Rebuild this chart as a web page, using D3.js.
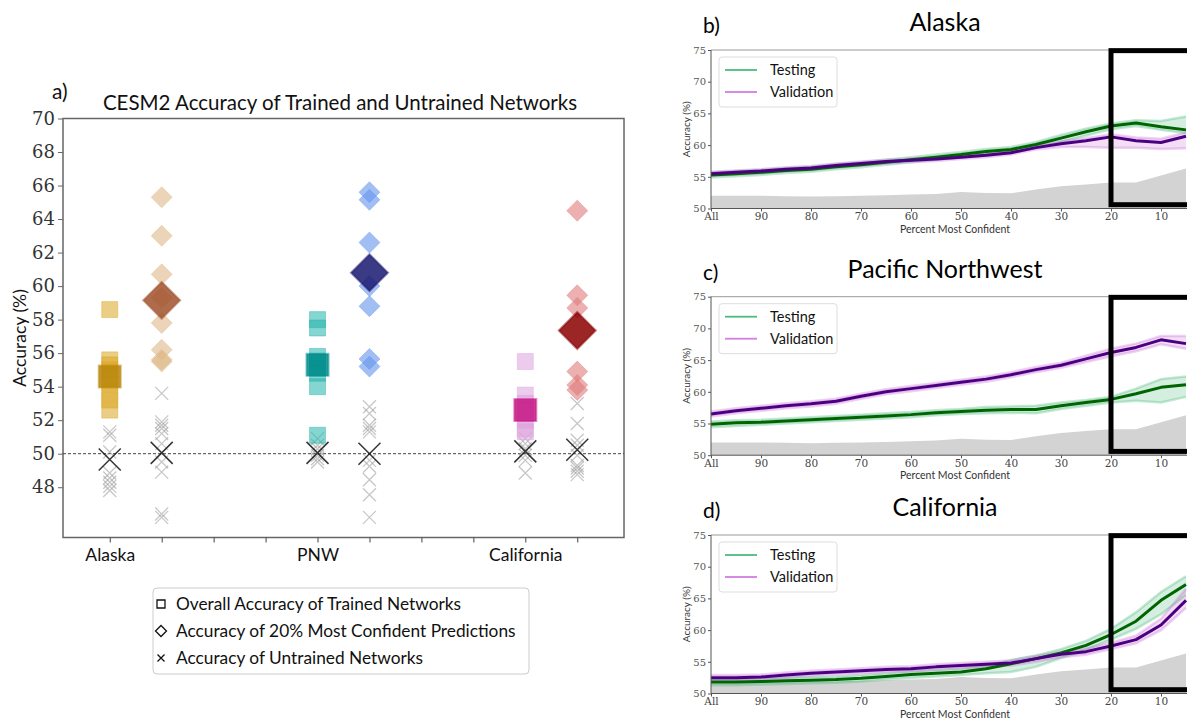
<!DOCTYPE html>
<html><head><meta charset="utf-8">
<script src="https://cdn.jsdelivr.net/npm/d3@7"></script>
<style>body{margin:0;background:#fff}svg{display:block}</style>
</head><body>
<svg id="c" width="1187" height="719"></svg>
<script>
// ---------- Panel a data ----------
const regionNames = ["Alaska", "PNW", "California"];
const regionTickPos = [1, 5, 9];
const xTicksA = [1,2,3,4,5,6,7,8,9,10];
const yTicksA = [48,50,52,54,56,58,60,62,64,66,68,70];

const alaskaTrained = [58.6, 55.6, 55.3, 55.0, 54.6, 54.2, 53.6, 53.2, 52.6];
const alaskaTrainedMean = 54.6;
const alaskaConfident = [65.3, 63.0, 60.7, 59.3, 57.8, 56.2, 55.6, 55.5];
const alaskaConfidentMean = 59.15;
const alaskaUntrainedA = [51.3, 51.1, 50.1, 48.85, 48.55, 48.3, 48.05, 47.8];
const alaskaUntrainedAMean = 49.65;
const alaskaUntrainedB = [53.6, 51.9, 51.7, 51.5, 51.2, 50.6, 49.5, 48.9, 46.4, 46.2];
const alaskaUntrainedBMean = 50.05;

const pnwTrained = [58.0, 57.5, 55.8, 55.5, 55.1, 54.8, 54.0, 51.1];
const pnwTrainedMean = 55.3;
const pnwConfident = [65.6, 65.15, 62.6, 60.0, 58.8, 55.65, 55.2];
const pnwConfidentMean = 60.8;
const pnwUntrainedA = [50.9, 50.5, 50.3, 49.9, 49.7, 49.5];
const pnwUntrainedAMean = 50.05;
const pnwUntrainedB = [52.8, 52.4, 51.7, 51.5, 51.3, 49.6, 49.25, 48.45, 47.55, 46.2];
const pnwUntrainedBMean = 50.0;

const caTrained = [55.5, 53.5, 53.0, 52.6, 52.0, 51.5, 51.3];
const caTrainedMean = 52.6;
const caConfident = [64.5, 59.45, 58.7, 54.9, 54.1, 53.8];
const caConfidentMean = 57.35;
const caUntrainedA = [50.9, 50.6, 50.3, 49.9, 49.6, 48.85];
const caUntrainedAMean = 50.14;
const caUntrainedB = [53.0, 51.8, 50.8, 50.5, 49.9, 49.3, 49.15, 48.95, 48.75];
const caUntrainedBMean = 50.24;

const lightSquareColors = ["#daa520", "#20b2aa", "#dda0dd"];
const meanSquareColors = ["#b8860b", "#008b8b", "#c71585"];
const lightDiamondColors = ["#deb887", "#6495ed", "#e07b7b"];
const meanDiamondColors = ["#a0522d", "#191970", "#8b0000"];

const legendLabelsA = ["Overall Accuracy of Trained Networks",
  "Accuracy of 20% Most Confident Predictions",
  "Accuracy of Untrained Networks"];

// ---------- Panels b-d data ----------
const pctX = [100,95,90,85,80,75,70,65,60,55,50,45,40,35,30,25,20,15,10,5];
const xTicksR = [100,90,80,70,60,50,40,30,20,10];
const yTicksR = [50,55,60,65,70,75];
const chanceAcc = [52.0,52.0,52.0,51.95,51.9,51.95,52.0,52.1,52.2,52.3,52.6,52.45,52.4,53.0,53.5,53.8,54.1,54.1,55.2,56.3];

const akTest    = [55.3,55.5,55.7,56.0,56.2,56.6,56.9,57.3,57.7,58.1,58.5,59.0,59.3,60.1,61.1,62.1,63.0,63.5,62.9,62.4];
const akTestLo  = [54.9,55.1,55.3,55.6,55.8,56.2,56.5,56.9,57.3,57.7,58.1,58.6,58.9,59.6,60.5,61.5,62.5,63.0,62.4,61.9];
const akTestHi  = [55.7,55.9,56.1,56.4,56.6,57.0,57.3,57.7,58.1,58.5,58.9,59.4,59.7,60.5,61.6,62.6,63.4,63.9,63.8,64.5];
const akVal     = [55.5,55.7,55.9,56.2,56.4,56.8,57.1,57.4,57.6,57.8,58.1,58.4,58.8,59.6,60.2,60.7,61.3,60.7,60.4,61.4];
const akValLo   = [55.2,55.4,55.6,55.9,56.1,56.5,56.8,57.1,57.3,57.5,57.8,58.1,58.5,59.3,59.7,59.7,59.6,59.6,59.4,59.5];
const akValHi   = [55.8,56.0,56.2,56.5,56.7,57.1,57.4,57.7,57.9,58.1,58.4,58.7,59.1,59.9,60.6,61.1,61.7,61.2,61.0,62.0];

const pnwTest   = [54.9,55.1,55.2,55.4,55.6,55.8,56.0,56.2,56.4,56.7,56.9,57.1,57.2,57.2,57.8,58.3,58.8,59.7,60.7,61.1];
const pnwTestLo = [54.4,54.6,54.8,55.0,55.2,55.4,55.6,55.8,56.0,56.3,56.5,56.6,56.7,56.6,57.3,57.8,58.3,58.6,58.3,59.2];
const pnwTestHi = [55.3,55.5,55.6,55.8,56.0,56.2,56.4,56.6,56.8,57.1,57.3,57.6,57.7,57.8,58.3,58.7,59.2,60.5,62.0,62.4];
const pnwVal    = [56.5,57.0,57.4,57.8,58.1,58.5,59.3,60.0,60.5,61.0,61.5,62.0,62.7,63.5,64.2,65.2,66.2,67.0,68.2,67.6];
const pnwValLo  = [56.1,56.6,57.0,57.4,57.7,58.1,58.9,59.6,60.1,60.6,61.1,61.6,62.3,63.1,63.8,64.7,65.6,66.4,67.5,66.8];
const pnwValHi  = [56.9,57.4,57.8,58.2,58.5,58.9,59.7,60.4,60.9,61.4,61.9,62.4,63.1,63.9,64.6,65.7,66.8,67.6,68.8,68.8];

const caTest    = [51.8,51.8,51.9,52.0,52.1,52.2,52.4,52.7,53.0,53.2,53.4,53.9,54.7,55.5,56.4,57.6,59.3,61.4,64.7,67.2];
const caTestLo  = [51.3,51.3,51.4,51.5,51.6,51.7,51.9,52.2,52.5,52.7,52.9,53.2,53.4,54.2,55.6,56.9,58.5,60.2,62.5,65.5];
const caTestHi  = [52.3,52.3,52.4,52.5,52.6,52.7,52.9,53.2,53.5,53.7,53.9,54.4,55.3,56.0,57.0,58.3,60.2,62.8,66.0,68.5];
const caVal     = [52.5,52.5,52.6,52.9,53.2,53.4,53.6,53.8,53.9,54.2,54.4,54.6,54.8,55.5,56.2,56.6,57.5,58.5,60.8,64.7];
const caValLo   = [52.1,52.1,52.2,52.5,52.8,53.0,53.2,53.4,53.5,53.8,54.0,54.2,54.4,55.0,55.7,56.1,57.0,57.9,60.0,63.5];
const caValHi   = [52.9,52.9,53.0,53.3,53.6,53.8,54.0,54.2,54.3,54.6,54.8,55.0,55.2,55.9,56.6,57.1,58.0,59.1,61.8,66.5];

const panelTitles = ["Alaska", "Pacific Northwest", "California"];
const panelLetters = ["b)", "c)", "d)"];
const legendLabelsR = ["Testing", "Validation"];

// ---------- Drawing ----------
const svg = d3.select("#c");
const sans = "Lato, 'Open Sans', sans-serif";
const serif = "'DejaVu Serif', 'Liberation Serif', serif";

// ===== Panel a =====
const ax = { left: 63, right: 624, top: 118.5, bottom: 537.5 };
const xA = d3.scaleLinear().domain([0.1, 10.9]).range([ax.left, ax.right]);
const yA = d3.scaleLinear().domain([45, 70]).range([ax.bottom, ax.top]);
const gA = svg.append("g");

gA.append("rect").attr("x", ax.left).attr("y", ax.top)
  .attr("width", ax.right - ax.left).attr("height", ax.bottom - ax.top)
  .attr("fill", "none").attr("stroke", "#666").attr("stroke-width", 1.5);

const yAxisA = gA.append("g").attr("transform", `translate(${ax.left},0)`)
  .call(d3.axisLeft(yA).tickValues(yTicksA).tickSize(5).tickPadding(3));
yAxisA.select(".domain").remove();
yAxisA.selectAll("line").attr("stroke", "#666");
yAxisA.selectAll("text").attr("font-family", serif).attr("font-size", 18).attr("fill", "#333");

const xAxisA = gA.append("g").attr("transform", `translate(0,${ax.bottom})`)
  .call(d3.axisBottom(xA).tickValues(xTicksA).tickSize(5).tickPadding(6)
    .tickFormat(d => { const i = regionTickPos.indexOf(d); return i >= 0 ? regionNames[i] : ""; }));
xAxisA.select(".domain").remove();
xAxisA.selectAll("line").attr("stroke", "#444");
xAxisA.selectAll("text").attr("font-family", sans).attr("font-size", 17.5).attr("fill", "#111");

gA.append("line").attr("x1", ax.left).attr("x2", ax.right)
  .attr("y1", yA(50)).attr("y2", yA(50))
  .attr("stroke", "#444").attr("stroke-width", 1).attr("stroke-dasharray", "3,2");

gA.append("text").attr("x", 340).attr("y", 110)
  .attr("text-anchor", "middle").attr("font-family", sans).attr("font-size", 20.5)
  .attr("fill", "#111").text("CESM2 Accuracy of Trained and Untrained Networks");
gA.append("text").attr("x", 52).attr("y", 99).attr("font-family", sans)
  .attr("font-size", 21).attr("fill", "#111").text("a)");
gA.append("text").attr("transform", `translate(26,${(ax.top + ax.bottom) / 2 + 10}) rotate(-90)`)
  .attr("text-anchor", "middle").attr("font-family", sans).attr("font-size", 17.5)
  .attr("fill", "#111").text("Accuracy (%)");

const sqPath = s => `M${-s/2},${-s/2}h${s}v${s}h${-s}Z`;
const diaPath = d => `M0,${-d/2}L${d/2},0L0,${d/2}L${-d/2},0Z`;
const xPath = h => `M${-h},${-h}L${h},${h}M${-h},${h}L${h},${-h}`;

function drawGroup(vals, pos, path, style) {
  gA.append("g").selectAll("path").data(vals).join("path")
    .attr("d", path)
    .attr("transform", d => `translate(${xA(pos)},${yA(d)})`)
    .each(function() { const el = d3.select(this); for (const k in style) el.attr(k, style[k]); });
}

const trainedSets = [alaskaTrained, pnwTrained, caTrained];
const trainedMeans = [alaskaTrainedMean, pnwTrainedMean, caTrainedMean];
const confSets = [alaskaConfident, pnwConfident, caConfident];
const confMeans = [alaskaConfidentMean, pnwConfidentMean, caConfidentMean];
const untrA = [alaskaUntrainedA, pnwUntrainedA, caUntrainedA];
const untrAMean = [alaskaUntrainedAMean, pnwUntrainedAMean, caUntrainedAMean];
const untrB = [alaskaUntrainedB, pnwUntrainedB, caUntrainedB];
const untrBMean = [alaskaUntrainedBMean, pnwUntrainedBMean, caUntrainedBMean];

regionTickPos.forEach((p, i) => {
  drawGroup(untrA[i], p, xPath(6.5), { fill: "none", stroke: "#999", "stroke-width": 1.3, "stroke-opacity": 0.55 });
  drawGroup(untrB[i], p + 1, xPath(6.5), { fill: "none", stroke: "#999", "stroke-width": 1.3, "stroke-opacity": 0.55 });
  drawGroup(trainedSets[i], p, sqPath(16), { fill: lightSquareColors[i], "fill-opacity": 0.55, stroke: lightSquareColors[i], "stroke-opacity": 0.4, "stroke-width": 1 });
  drawGroup([trainedMeans[i]], p, sqPath(22), { fill: meanSquareColors[i], "fill-opacity": 0.85, stroke: meanSquareColors[i], "stroke-opacity": 0.5, "stroke-width": 2 });
  drawGroup(confSets[i], p + 1, diaPath(21), { fill: lightDiamondColors[i], "fill-opacity": 0.6, stroke: lightDiamondColors[i], "stroke-opacity": 0.4, "stroke-width": 1 });
  drawGroup([confMeans[i]], p + 1, diaPath(37), { fill: meanDiamondColors[i], "fill-opacity": 0.85, stroke: meanDiamondColors[i], "stroke-opacity": 0.5, "stroke-width": 2 });
  drawGroup([untrAMean[i]], p, xPath(11), { fill: "none", stroke: "#111", "stroke-width": 1.5, "stroke-opacity": 0.85 });
  drawGroup([untrBMean[i]], p + 1, xPath(11), { fill: "none", stroke: "#111", "stroke-width": 1.5, "stroke-opacity": 0.85 });
});

// legend a
const lg = gA.append("g");
lg.append("rect").attr("x", 153).attr("y", 588).attr("width", 376).attr("height", 86)
  .attr("rx", 4).attr("fill", "#fff").attr("stroke", "#ccc").attr("stroke-width", 1);
const legMarks = [sqPath(8), diaPath(11), xPath(3.5)];
legendLabelsA.forEach((t, i) => {
  const cy = 604 + i * 27;
  lg.append("path").attr("d", legMarks[i]).attr("transform", `translate(161,${cy})`)
    .attr("fill", "none").attr("stroke", "#111").attr("stroke-width", 1.3);
  lg.append("text").attr("x", 176).attr("y", cy + 6).attr("font-family", sans)
    .attr("font-size", 17.3).attr("fill", "#111").text(t);
});

// ===== Panels b-d =====
const panelTops = [50, 296.7, 535];
const panelH = 158.5;
const xR = d3.scaleLinear().domain([100, 0]).range([711, 1211]);
const testSets = [[akTest, akTestLo, akTestHi], [pnwTest, pnwTestLo, pnwTestHi], [caTest, caTestLo, caTestHi]];
const valSets = [[akVal, akValLo, akValHi], [pnwVal, pnwValLo, pnwValHi], [caVal, caValLo, caValHi]];
const pts = pctX.map((x, i) => i);

panelTops.forEach((top, pi) => {
  const bottom = top + panelH;
  const yR = d3.scaleLinear().domain([50, 75]).range([bottom, top]);
  const g = svg.append("g");

  g.append("path").datum(pts)
    .attr("d", d3.area().x(i => xR(pctX[i])).y0(yR(50)).y1(i => yR(chanceAcc[i])))
    .attr("fill", "#d3d3d3");

  const line = arr => d3.line().x(i => xR(pctX[i])).y(i => yR(arr[i]));
  const band = (lo, hi) => d3.area().x(i => xR(pctX[i])).y0(i => yR(lo[i])).y1(i => yR(hi[i]));

  const sets = [[testSets[pi], "#3cb371", "#006400"], [valSets[pi], "#c86ad8", "#4b0082"]];
  sets.forEach(([s, light]) => {
    g.append("path").datum(pts).attr("d", band(s[1], s[2])).attr("fill", light).attr("fill-opacity", 0.22);
    [s[1], s[2]].forEach(a => g.append("path").datum(pts).attr("d", line(a))
      .attr("fill", "none").attr("stroke", light).attr("stroke-opacity", 0.3).attr("stroke-width", 2.5));
  });
  sets.forEach(([s, light, dark]) => {
    g.append("path").datum(pts).attr("d", line(s[0]))
      .attr("fill", "none").attr("stroke", dark).attr("stroke-width", 3).attr("stroke-linejoin", "round");
  });

  g.append("line").attr("x1", 711).attr("x2", 1187).attr("y1", top).attr("y2", top)
    .attr("stroke", "#999").attr("stroke-width", 1);
  g.append("line").attr("x1", 711).attr("x2", 711).attr("y1", top).attr("y2", bottom)
    .attr("stroke", "#555").attr("stroke-width", 1);
  g.append("line").attr("x1", 711).attr("x2", 1187).attr("y1", bottom).attr("y2", bottom)
    .attr("stroke", "#555").attr("stroke-width", 1);

  const ya = g.append("g").attr("transform", "translate(711,0)")
    .call(d3.axisLeft(yR).tickValues(yTicksR).tickSize(3).tickPadding(2));
  ya.select(".domain").remove();
  ya.selectAll("line").attr("stroke", "#555");
  ya.selectAll("text").attr("font-family", serif).attr("font-size", 10).attr("fill", "#555");

  const xa = g.append("g").attr("transform", `translate(0,${bottom})`)
    .call(d3.axisBottom(xR).tickValues(xTicksR).tickSize(3).tickPadding(1)
      .tickFormat(d => d === 100 ? "All" : d));
  xa.select(".domain").remove();
  xa.selectAll("line").attr("stroke", "#555");
  xa.selectAll("text").attr("font-family", serif).attr("font-size", 10.5).attr("fill", "#444");

  g.append("text").attr("x", 955).attr("y", bottom + 24).attr("text-anchor", "middle")
    .attr("font-family", sans).attr("font-size", 10.5).attr("fill", "#333").text("Percent Most Confident");
  g.append("text").attr("transform", `translate(690,${(top + bottom) / 2}) rotate(-90)`)
    .attr("text-anchor", "middle").attr("font-family", sans).attr("font-size", 10)
    .attr("fill", "#333").text("Accuracy (%)");

  g.append("rect").attr("x", xR(20)).attr("y", yR(74.9))
    .attr("width", xR(-1) - xR(20)).attr("height", yR(50.6) - yR(74.9))
    .attr("fill", "none").attr("stroke", "#000").attr("stroke-width", 5);

  const lgr = g.append("g");
  lgr.append("rect").attr("x", 719).attr("y", top + 7).attr("width", 118).attr("height", 50)
    .attr("rx", 3).attr("fill", "#fff").attr("fill-opacity", 0.85).attr("stroke", "#ddd");
  [["#4cbb7f", 0], ["#d27ee0", 1]].forEach(([c, k]) => {
    const cy = top + 20 + k * 22;
    lgr.append("line").attr("x1", 725).attr("x2", 757).attr("y1", cy).attr("y2", cy)
      .attr("stroke", c).attr("stroke-width", 1.8);
    lgr.append("text").attr("x", 770).attr("y", cy + 5).attr("font-family", sans)
      .attr("font-size", 14.5).attr("fill", "#111").text(legendLabelsR[k]);
  });

  g.append("text").attr("x", 945).attr("y", top - 19).attr("text-anchor", "middle")
    .attr("font-family", sans).attr("font-size", 25).attr("fill", "#000").text(panelTitles[pi]);
  g.append("text").attr("x", 703).attr("y", top - 17)
    .attr("font-family", sans).attr("font-size", 21).attr("fill", "#000").text(panelLetters[pi]);
});
</script>
</body></html>
